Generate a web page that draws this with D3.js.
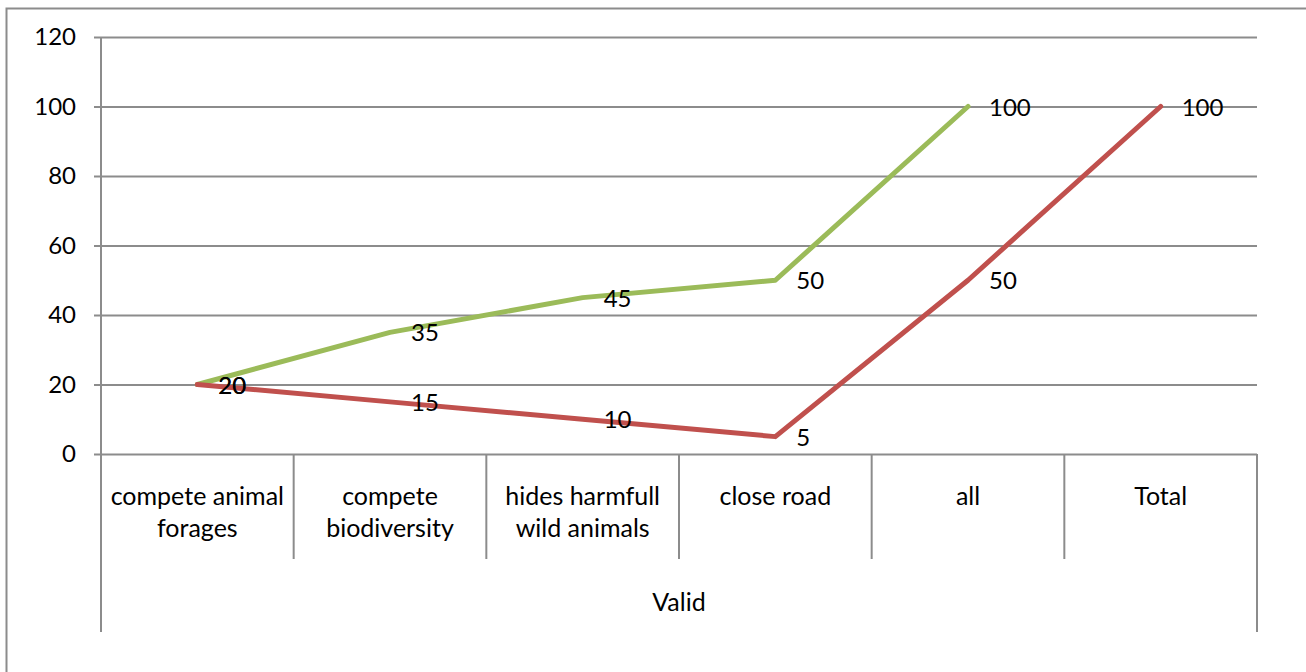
<!DOCTYPE html>
<html>
<head>
<meta charset="utf-8">
<script src="https://cdn.jsdelivr.net/npm/d3@7"></script>
<style>
  html, body { margin: 0; padding: 0; background: #fff; }
  svg { display: block; }
  text { font-family: Lato, "Open Sans", sans-serif; fill: #000; }
</style>
</head>
<body>
<svg id="chart" width="1306" height="672"></svg>
<script>
// Categories along the x axis (each label split into its wrapped lines)
const categories = [
  ["compete animal", "forages"],
  ["compete", "biodiversity"],
  ["hides harmfull", "wild animals"],
  ["close road"],
  ["all"],
  ["Total"]
];
const groupLabel = "Valid";

// Series values, one per category (green series has no value for "Total")
const greenValues = [20, 35, 45, 50, 100];
const redValues = [20, 15, 10, 5, 50, 100];

const yTicks = [0, 20, 40, 60, 80, 100, 120];

(function () {
  const svg = d3.select("#chart");
  const W = 1306, H = 672;
  const plotLeft = 101, plotRight = 1257, plotTop = 37, plotBottom = 454;
  const axisBottom = 632, sepBottom = 559;
  const gridColor = "#8c8c8c";
  const fontSize = 24;
  const catFontSize = 25;

  // Outer chart border
  svg.append("rect")
    .attr("x", 6.5).attr("y", 8.5)
    .attr("width", W + 20).attr("height", H + 20)
    .attr("fill", "none").attr("stroke", "#8c8c8c").attr("stroke-width", 2);

  const x = d3.scaleBand()
    .domain(d3.range(categories.length))
    .range([plotLeft, plotRight])
    .paddingInner(0).paddingOuter(0);

  const y = d3.scaleLinear().domain([0, 120]).range([plotBottom, plotTop]);

  // Horizontal gridlines with tick labels
  const yAxis = d3.axisLeft(y)
    .tickValues(yTicks)
    .tickSize(-(plotRight - plotLeft))
    .tickPadding(25);
  const gy = svg.append("g").attr("transform", `translate(${plotLeft},0)`).call(yAxis);
  gy.select(".domain").remove();
  gy.selectAll(".tick line")
    .attr("x1", -7)
    .attr("stroke", gridColor).attr("stroke-width", 2);
  gy.selectAll(".tick text")
    .attr("font-size", fontSize)
    .attr("font-family", "Lato, sans-serif")
    .attr("fill", "#000");

  // Vertical axis lines bounding the category area
  svg.append("line")
    .attr("x1", plotLeft).attr("x2", plotLeft)
    .attr("y1", plotTop).attr("y2", axisBottom)
    .attr("stroke", gridColor).attr("stroke-width", 2);
  svg.append("line")
    .attr("x1", plotRight).attr("x2", plotRight)
    .attr("y1", plotBottom).attr("y2", axisBottom)
    .attr("stroke", gridColor).attr("stroke-width", 2);

  // Category separators
  d3.range(1, categories.length).forEach(i => {
    const sx = x(i);
    svg.append("line")
      .attr("x1", sx).attr("x2", sx)
      .attr("y1", plotBottom).attr("y2", sepBottom)
      .attr("stroke", gridColor).attr("stroke-width", 2);
  });

  // Category labels
  const catG = svg.append("g");
  categories.forEach((lines, i) => {
    const cx = x(i) + x.bandwidth() / 2;
    const t = catG.append("text")
      .attr("x", cx).attr("y", 505)
      .attr("text-anchor", "middle")
      .attr("font-size", catFontSize);
    lines.forEach((ln, j) => {
      t.append("tspan").attr("x", cx).attr("dy", j === 0 ? 0 : 32).text(ln);
    });
  });

  // Group label
  svg.append("text")
    .attr("x", (plotLeft + plotRight) / 2).attr("y", 611)
    .attr("text-anchor", "middle")
    .attr("font-size", catFontSize)
    .text(groupLabel);

  const cxOf = i => x(i) + x.bandwidth() / 2;
  const line = d3.line().x((d, i) => cxOf(i)).y(d => y(d));

  const series = [
    { values: greenValues, color: "#9BBB59" },
    { values: redValues, color: "#C0504D" }
  ];

  series.forEach(s => {
    svg.append("path")
      .datum(s.values)
      .attr("d", line)
      .attr("fill", "none")
      .attr("stroke", s.color)
      .attr("stroke-width", 5)
      .attr("stroke-linejoin", "round")
      .attr("stroke-linecap", "round");
  });

  // Data labels to the right of each point
  series.forEach(s => {
    svg.append("g").selectAll("text")
      .data(s.values)
      .join("text")
      .attr("x", (d, i) => cxOf(i) + 21)
      .attr("y", d => y(d) + 9)
      .attr("font-size", fontSize)
      .text(d => d);
  });
})();
</script>
</body>
</html>
